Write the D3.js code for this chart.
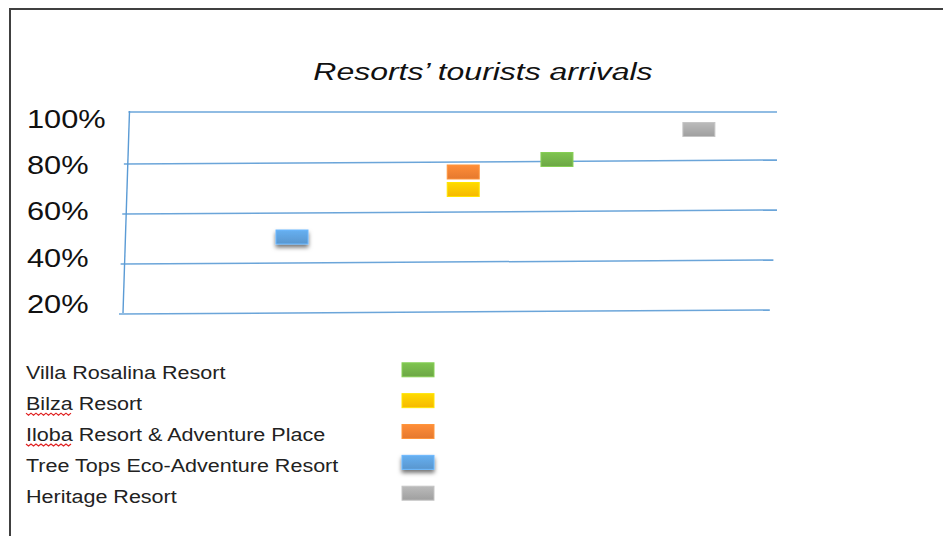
<!DOCTYPE html>
<html>
<head>
<meta charset="utf-8">
<script src="https://cdn.jsdelivr.net/npm/d3@7"></script>
<style>
  body { margin: 0; background: #fff; }
  svg { display: block; font-family: "Liberation Sans", Arial, sans-serif; }
</style>
</head>
<body>
<svg width="943" height="536"></svg>
<script>
// data
var resorts = ["Villa Rosalina Resort", "Bilza Resort", "Iloba Resort & Adventure Place",
               "Tree Tops Eco-Adventure Resort", "Heritage Resort"];
var arrivals = [81, 69, 76, 50, 93];          // percent
var xValue = [6.62, 5.18, 5.18, 2.55, 8.8];    // position along the (unlabelled) x axis
var yTicks = [100, 80, 60, 40, 20];
var tickLabels = ["100%", "80%", "60%", "40%", "20%"];
var misspelled = ["Bilza", "Iloba"];
var colors = ["#70ad47", "#ffc000", "#ed7d31", "#5b9bd5", "#a5a5a5"];

var svg = d3.select("svg");

var x = d3.scaleLinear().domain([0, 10]).range([126, 777]);
var y = d3.scaleLinear().domain([20, 100]).range([312, 112]);
var labelY = d3.scaleLinear().domain([20, 100]).range([312.7, 128]);

// stretch text horizontally like the picture does
function stretch(sel, k) {
  sel.each(function() {
    var w = this.getComputedTextLength();
    d3.select(this).attr("textLength", w * k).attr("lengthAdjust", "spacingAndGlyphs");
  });
}

var defs = svg.append("defs");
colors.forEach(function(c, i) {
  var gr = defs.append("linearGradient").attr("id", "g" + i)
    .attr("x1", 0).attr("y1", 0).attr("x2", 0).attr("y2", 1);
  gr.append("stop").attr("offset", "0%").attr("stop-color", d3.color(c).brighter(0.35));
  gr.append("stop").attr("offset", "100%").attr("stop-color", d3.color(c).darker(0.1));
});
defs.append("filter").attr("id", "shadow")
  .attr("x", "-30%").attr("y", "-30%").attr("width", "160%").attr("height", "190%")
  .append("feDropShadow")
  .attr("dx", 0).attr("dy", 3).attr("stdDeviation", 2)
  .attr("flood-color", "#000").attr("flood-opacity", 0.55);

// page frame
svg.append("rect")
  .attr("x", 10).attr("y", 9).attr("width", 1000).attr("height", 600)
  .attr("fill", "none").attr("stroke", "#404040").attr("stroke-width", 2);

// title
svg.append("text")
  .attr("x", 483).attr("y", 79.5)
  .attr("text-anchor", "middle")
  .attr("font-size", 23.5).attr("font-style", "italic")
  .attr("fill", "#111")
  .text("Resorts\u2019 tourists arrivals")
  .call(stretch, 1.36);

// hand drawn looking axis + grid
function axisX(v) { return x(0) + 3.5 - (100 - v) / 80 * 6.5; }

svg.append("line")
  .attr("x1", axisX(100)).attr("y1", y(100) - 1)
  .attr("x2", axisX(20)).attr("y2", y(20) + 1)
  .attr("stroke", "#5b9bd5").attr("stroke-width", 1.4);

svg.selectAll(".grid").data(yTicks).enter().append("line")
  .attr("class", "grid")
  .attr("x1", function(d) { return d === 100 ? axisX(d) - 1 : axisX(d) - 4; })
  .attr("y1", function(d) { return d === 100 ? y(d) : y(d) + 2; })
  .attr("x2", function(d) { return x(10) - Math.max(0, 60 - d) * 0.18; })
  .attr("y2", function(d) { return d === 100 ? y(d) : y(d) - 2; })
  .attr("stroke", "#5b9bd5").attr("stroke-width", 1.5).attr("stroke-opacity", 0.9);

svg.selectAll(".tick").data(yTicks).enter().append("text")
  .attr("class", "tick")
  .attr("x", 27).attr("y", function(d) { return labelY(d); })
  .attr("font-size", 25).attr("fill", "#111")
  .text(function(d, i) { return tickLabels[i]; })
  .call(stretch, 1.23);

// markers
var pts = resorts.map(function(r, i) { return {name: r, v: arrivals[i], xv: xValue[i], i: i}; });
svg.selectAll(".mark").data(pts).enter().append("rect")
  .attr("class", "mark")
  .attr("x", function(d) { return x(d.xv) - 16; })
  .attr("y", function(d) { return y(d.v) - 7; })
  .attr("width", 32).attr("height", 14)
  .attr("fill", function(d) { return "url(#g" + d.i + ")"; })
  .attr("stroke", function(d) { return d3.color(colors[d.i]).brighter(0.5); })
  .attr("stroke-width", 1)
  .attr("filter", function(d) { return colors[d.i] === "#5b9bd5" ? "url(#shadow)" : null; });

// legend
var legend = svg.selectAll(".leg").data(pts).enter().append("g")
  .attr("class", "leg")
  .attr("transform", function(d, i) { return "translate(0," + (379.3 + i * 30.85) + ")"; });

legend.append("text")
  .attr("x", 26).attr("y", 0)
  .attr("font-size", 17.5).attr("fill", "#222")
  .text(function(d) { return d.name; })
  .call(stretch, 1.23);

legend.append("rect")
  .attr("x", 402).attr("y", -16.5)
  .attr("width", 32).attr("height", 14)
  .attr("fill", function(d) { return "url(#g" + d.i + ")"; })
  .attr("stroke", function(d) { return d3.color(colors[d.i]).brighter(0.5); })
  .attr("stroke-width", 1)
  .attr("filter", function(d) { return colors[d.i] === "#5b9bd5" ? "url(#shadow)" : null; });

// spell-check squiggles under the first words
legend.each(function(d) {
  var first = d.name.split(" ")[0];
  if (misspelled.indexOf(first) < 0) return;
  var g = d3.select(this);
  var t = g.select("text").node();
  var w = t.getSubStringLength(0, first.length);
  var p = d3.path(), x0 = 26, yy = 3, step = 2.5;
  p.moveTo(x0, yy);
  for (var k = 0; (k + 1) * step <= w; k++) {
    p.lineTo(x0 + (k + 1) * step, yy + (k % 2 === 0 ? 2 : 0));
  }
  g.append("path").attr("d", p.toString())
    .attr("fill", "none").attr("stroke", "#e02020").attr("stroke-width", 1.2);
});
</script>
</body>
</html>
